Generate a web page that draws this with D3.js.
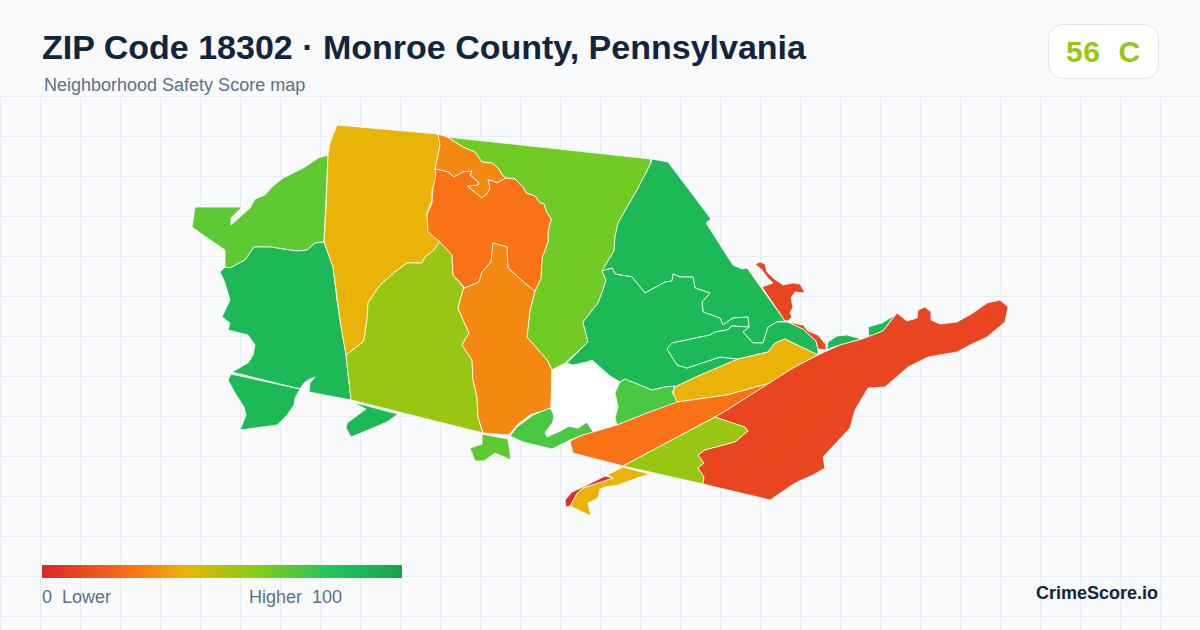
<!DOCTYPE html>
<html>
<head>
<meta charset="utf-8">
<style>
    html, body { margin: 0; padding: 0; background: #f8fafc; }
    text { font-family: "Liberation Sans", Arial, sans-serif; white-space: pre; }
</style>
</head>
<body>
<div id="chart"></div>
<script src="https://cdn.jsdelivr.net/npm/d3@7"></script>
<script>
    const titleText = "ZIP Code 18302 · Monroe County, Pennsylvania";
    const subtitleText = "Neighborhood Safety Score map";
    const gradeText = "56  C";
    const gradeScore = 56;
    const brandText = "CrimeScore.io";

    // Legend
    const legendStops = [0, 25, 40, 60, 80, 100];
    const legendColors = ["#dc2626", "#f97316", "#eab308", "#84cc16", "#22c55e", "#16a34a"];
    const legendLow = "0  Lower";
    const legendHigh = "Higher  100";

    // Neighbourhood scores, null is the unscored white area
    const zoneScores = [68, 87, 87, 87, 40, 56, 64, 30, 25, 30, 68, 72, null, 87, 87, 87, 87, 87, 72, 40, 25, 56, 10, 40, 3, 10, 10];

    // Neighbourhood outlines
    const zoneOutlines = [
        // north-west arm
        [[328,155],[318,158],[305,167],[283,178],[272,187],[265,195],[255,199],[250,208],[231,225],[231,218],[242,207],[195,207],[192,227],[203,235],[225,250],[225,267],[230,268],[245,260],[254,247],[270,247],[290,250],[298,251],[307,250],[315,243],[324,242]],
        // west
        [[225,267],[230,268],[245,260],[254,247],[270,247],[290,250],[298,251],[307,250],[315,243],[324,242],[333,267],[337,300],[340,320],[346,355],[351,400],[309,392],[310,383],[315,377],[308,380],[304,383],[300,389],[232,372],[248,363],[253,355],[255,345],[248,335],[228,330],[230,323],[222,317],[230,300],[225,283],[220,272]],
        // south-west lobe
        [[231,374],[228,380],[235,393],[244,407],[246,415],[240,430],[277,425],[287,415],[294,405],[295,398],[300,389]],
        // small south lobe
        [[352,402],[366,409],[347,423],[346,428],[351,437],[373,428],[387,422],[398,414]],
        // north-west tall zone
        [[337,125],[438,134],[440,145],[437,160],[435,169],[437,178],[432,190],[432,200],[427,213],[428,227],[440,241],[434,250],[425,257],[422,263],[407,263],[395,272],[380,285],[368,303],[367,320],[364,340],[363,342],[346,355],[340,320],[333,267],[324,242],[326,210],[328,155],[330,143]],
        // central west
        [[440,241],[434,250],[425,257],[422,263],[407,263],[395,272],[380,285],[368,303],[367,320],[364,340],[363,342],[346,355],[351,400],[483,433],[478,417],[477,397],[473,380],[472,360],[462,345],[469,333],[458,308],[463,290],[464,288],[453,275],[452,255]],
        // north central
        [[447,137],[651,159],[650,165],[637,190],[618,223],[615,237],[614,251],[602,271],[606,280],[603,290],[598,303],[583,322],[588,342],[565,363],[552,370],[547,360],[527,337],[530,310],[535,291],[541,278],[542,258],[548,242],[548,232],[551,219],[546,211],[544,204],[540,203],[535,196],[526,193],[523,187],[515,179],[506,178],[503,176],[498,168],[492,163],[482,162],[475,152],[463,147]],
        // north hook
        [[438,134],[447,137],[463,147],[475,152],[482,162],[492,163],[498,168],[503,176],[506,178],[497,183],[493,181],[488,180],[490,188],[487,194],[482,198],[467,186],[478,185],[478,182],[470,175],[472,171],[463,172],[454,177],[448,172],[440,170],[435,169],[437,160],[440,145]],
        // central basin
        [[435,169],[440,170],[448,172],[454,177],[463,172],[472,171],[470,175],[478,182],[478,185],[467,186],[482,198],[487,194],[490,188],[488,180],[493,181],[497,183],[506,178],[515,179],[523,187],[526,193],[535,196],[540,203],[544,204],[546,211],[551,219],[548,232],[548,242],[542,258],[541,278],[535,291],[527,285],[518,277],[508,268],[507,247],[493,243],[491,262],[482,272],[479,282],[465,288],[453,275],[452,255],[440,242],[428,232],[427,215],[432,203],[433,188],[436,175]],
        // central south
        [[465,288],[479,282],[482,272],[491,262],[493,243],[507,247],[508,268],[518,277],[527,285],[535,291],[530,310],[527,337],[547,360],[552,370],[551,408],[530,415],[517,425],[509,435],[483,433],[478,417],[477,397],[473,380],[472,360],[462,345],[469,333],[458,308],[463,290]],
        // small tail
        [[482,434],[508,439],[511,460],[495,453],[484,461],[475,461],[470,448],[482,444]],
        // south strip
        [[510,436],[517,427],[533,415],[550,408],[554,415],[553,422],[545,433],[547,437],[558,432],[569,426],[578,428],[587,422],[594,433],[583,435],[570,440],[552,449],[523,442]],
        // white centre
        [[567,363],[552,370],[551,407],[554,415],[553,422],[545,433],[558,432],[569,426],[578,428],[587,422],[594,433],[617,425],[615,418],[618,407],[615,393],[620,382],[610,376],[592,360],[587,362],[573,365]],
        // north-east upland
        [[652,159],[668,162],[711,219],[706,223],[733,265],[742,269],[747,268],[785,321],[777,322],[768,327],[763,343],[753,343],[743,332],[749,327],[748,317],[733,318],[723,325],[720,318],[703,312],[702,302],[710,293],[695,288],[693,277],[680,277],[673,274],[672,281],[665,282],[645,293],[632,277],[615,274],[612,268],[602,271],[614,251],[615,237],[618,223],[637,190],[650,165]],
        // south-central upland
        [[602,271],[612,268],[615,274],[632,277],[645,293],[665,282],[672,281],[673,274],[680,277],[693,277],[695,288],[710,293],[702,302],[703,312],[720,318],[723,325],[733,318],[748,317],[749,327],[732,326],[727,330],[715,332],[710,335],[672,343],[667,349],[677,365],[687,368],[720,357],[738,359],[698,376],[675,387],[665,387],[652,390],[625,379],[620,382],[610,376],[592,360],[587,362],[573,365],[567,363],[588,342],[583,322],[598,303],[603,290],[606,280]],
        // inner loop with eastern tail
        [[667,349],[672,343],[710,335],[715,332],[727,330],[732,326],[749,327],[743,332],[753,343],[763,343],[768,327],[777,322],[788,322],[803,329],[816,341],[818,349],[818,355],[793,343],[785,339],[775,343],[768,352],[738,359],[720,357],[687,368],[677,365]],
        // east slivers
        [[827,350],[828,342],[837,336],[847,335],[862,339],[833,347]],
        [[868,327],[882,323],[895,315],[883,331],[869,337]],
        // south of the upland
        [[620,382],[625,379],[652,390],[665,387],[675,386],[672,393],[680,402],[647,413],[617,425],[615,418],[618,407],[615,393]],
        // ridge
        [[675,387],[698,376],[738,359],[768,352],[775,343],[785,339],[793,343],[818,355],[793,368],[770,383],[727,395],[677,402],[673,392]],
        // long diagonal
        [[570,441],[583,435],[617,425],[647,413],[677,402],[727,395],[770,383],[793,368],[727,410],[715,417],[623,466],[573,453]],
        // south diagonal
        [[623,466],[715,417],[745,427],[748,431],[735,442],[720,446],[705,450],[698,455],[704,463],[698,468],[704,477],[703,484]],
        // eastern ridge
        [[818,355],[840,345],[862,339],[883,331],[897,313],[907,321],[917,318],[918,310],[925,307],[931,312],[931,320],[940,324],[957,322],[973,313],[987,303],[1000,300],[1008,307],[1005,322],[987,337],[970,345],[957,352],[928,357],[908,367],[885,387],[868,388],[855,410],[850,428],[823,457],[825,468],[813,475],[795,483],[770,500],[703,484],[704,477],[698,468],[704,463],[698,455],[705,450],[720,446],[735,442],[748,431],[745,427],[715,417],[727,410],[793,368]],
        // south-west tail
        [[623,467],[650,474],[637,478],[618,485],[605,487],[600,489],[598,498],[588,503],[591,516],[570,506],[577,493],[583,488],[613,478],[607,475]],
        // thin red strip
        [[566,507],[565,500],[572,492],[585,486],[605,476],[613,478],[583,488],[577,493],[570,506]],
        // north-east patch
        [[755,264],[760,262],[765,264],[767,272],[773,278],[783,285],[793,283],[800,284],[805,293],[795,292],[791,298],[793,307],[790,313],[792,317],[788,321],[785,321],[762,287],[773,283],[767,277],[762,270]],
        // east strip
        [[788,322],[803,325],[808,331],[818,335],[826,345],[826,350],[818,349],[816,341],[803,329]]
    ];

    const width = 1200;
    const height = 630;
    const gridStep = 40;
    const gridTop = 96.5;

    const svg = d3.select("#chart")
        .append("svg")
        .attr("width", width)
        .attr("height", height)
        .style("display", "block");

    svg.append("rect")
        .attr("width", width)
        .attr("height", height)
        .attr("fill", "#f8fafc");

    // Background grid
    const grid = svg.append("g")
        .attr("stroke", "#e2e8f0")
        .attr("stroke-opacity", 0.75)
        .attr("stroke-width", 1);

    grid.selectAll(".v")
        .data(d3.range(0.5, width, gridStep))
        .join("line")
        .attr("x1", d => d)
        .attr("x2", d => d)
        .attr("y1", gridTop)
        .attr("y2", height);

    grid.selectAll(".h")
        .data(d3.range(gridTop, height, gridStep))
        .join("line")
        .attr("x1", 0)
        .attr("x2", width)
        .attr("y1", d => d)
        .attr("y2", d => d);

    // Score colours
    const color = d3.scaleLinear()
        .domain(legendStops)
        .range(legendColors)
        .interpolate(d3.interpolateRgb);

    // Map
    const path = d3.geoPath(d3.geoIdentity());

    const features = zoneOutlines.map((ring, i) => ({
        type: "Feature",
        properties: { score: zoneScores[i] },
        geometry: { type: "Polygon", coordinates: [ring.concat([ring[0]])] }
    }));

    svg.append("g")
        .selectAll("path")
        .data(features)
        .join("path")
        .attr("d", path)
        .attr("fill", d => d.properties.score === null ? "#ffffff" : color(d.properties.score))
        .attr("stroke", "#ffffff")
        .attr("stroke-width", 0.8)
        .attr("stroke-linejoin", "round");

    // Header
    svg.append("text")
        .attr("x", 42)
        .attr("y", 59)
        .attr("fill", "#0f2540")
        .attr("font-size", 34)
        .attr("font-weight", 700)
        .text(titleText);

    svg.append("text")
        .attr("x", 44)
        .attr("y", 91)
        .attr("fill", "#5b7089")
        .attr("font-size", 18)
        .text(subtitleText);

    // Grade badge
    svg.append("rect")
        .attr("x", 1048.5)
        .attr("y", 24.5)
        .attr("width", 110)
        .attr("height", 54)
        .attr("rx", 14)
        .attr("fill", "#ffffff")
        .attr("stroke", "#e2e8f0");

    svg.append("text")
        .attr("x", 1066)
        .attr("y", 62)
        .attr("fill", color(gradeScore))
        .attr("font-size", 30)
        .attr("font-weight", 700)
        .attr("letter-spacing", 0.6)
        .text(gradeText);

    // Legend
    const legendX = d3.scaleLinear().domain([0, 100]).range([42, 402]);

    const gradient = svg.append("defs")
        .append("linearGradient")
        .attr("id", "legend-gradient");

    gradient.selectAll("stop")
        .data(legendStops)
        .join("stop")
        .attr("offset", d => d + "%")
        .attr("stop-color", (d, i) => legendColors[i]);

    svg.append("rect")
        .attr("x", legendX(0))
        .attr("y", 565)
        .attr("width", legendX(100) - legendX(0))
        .attr("height", 13)
        .attr("fill", "url(#legend-gradient)");

    svg.append("text")
        .attr("x", 42)
        .attr("y", 603)
        .attr("fill", "#5b7089")
        .attr("font-size", 18)
        .text(legendLow);

    svg.append("text")
        .attr("x", 249)
        .attr("y", 603)
        .attr("fill", "#5b7089")
        .attr("font-size", 18)
        .text(legendHigh);

    // Brand
    svg.append("text")
        .attr("x", 1158)
        .attr("y", 599)
        .attr("text-anchor", "end")
        .attr("fill", "#0f2540")
        .attr("font-size", 18)
        .attr("font-weight", 700)
        .text(brandText);
</script>
</body>
</html>
